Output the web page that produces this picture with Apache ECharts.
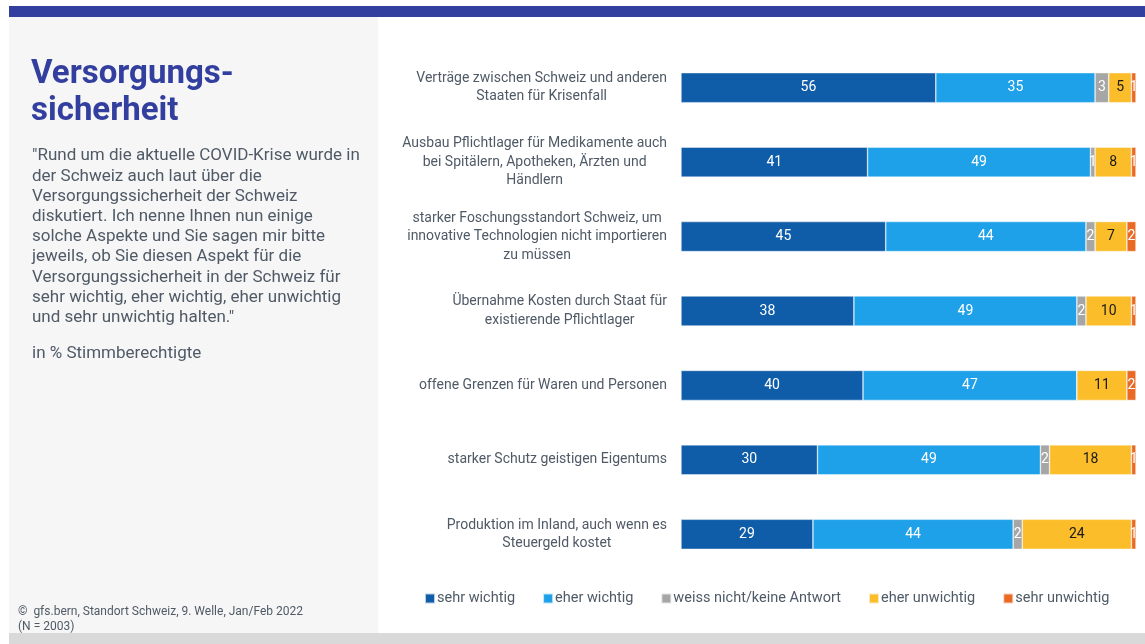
<!DOCTYPE html>
<html>
<head>
<meta charset="utf-8">
<script src="https://cdn.jsdelivr.net/npm/echarts@6/dist/echarts.min.js"></script>
<style>
  html, body { margin: 0; padding: 0; background: #fff; }
  #chart { width: 1145px; height: 644px; }
</style>
</head>
<body>
<div id="chart"></div>
<script>
// Aspekte (von oben nach unten)
var aspekte = [
  'Verträge zwischen Schweiz und anderen\nStaaten für Krisenfall',
  'Ausbau Pflichtlager für Medikamente auch\nbei Spitälern, Apotheken, Ärzten und\nHändlern',
  'starker Foschungsstandort Schweiz, um\ninnovative Technologien nicht importieren\nzu müssen',
  'Übernahme Kosten durch Staat für\nexistierende Pflichtlager',
  'offene Grenzen für Waren und Personen',
  'starker Schutz geistigen Eigentums',
  'Produktion im Inland, auch wenn es\nSteuergeld kostet'
];

var sehrWichtig   = [56, 41, 45, 38, 40, 30, 29];
var eherWichtig   = [35, 49, 44, 49, 47, 49, 44];
var weissNicht    = [3, 1, 2, 2, 0, 2, 2];
var eherUnwichtig = [5, 8, 7, 10, 11, 18, 24];
var sehrUnwichtig = [1, 1, 2, 1, 2, 1, 1];

var reihen = [
  { name: 'sehr wichtig', data: sehrWichtig, color: '#0f5da9', text: '#fff' },
  { name: 'eher wichtig', data: eherWichtig, color: '#1ea1e9', text: '#fff' },
  { name: 'weiss nicht/keine Antwort', data: weissNicht, color: '#a6a6a6', text: '#fff' },
  { name: 'eher unwichtig', data: eherUnwichtig, color: '#fbbd2a', text: '#1a1a1a' },
  { name: 'sehr unwichtig', data: sehrUnwichtig, color: '#e96a25', text: '#fff' }
];

var font = 'Roboto, "Noto Sans", sans-serif';
var textGrey = '#4f5a66';

var chart = echarts.init(document.getElementById('chart'));

var series = reihen.map(function (r) {
  return {
    name: r.name,
    type: 'bar',
    stack: 'total',
    barWidth: 30,
    data: r.data,
    itemStyle: { color: r.color, borderColor: 'rgba(255,255,255,0.7)', borderWidth: 0.6 },
    label: {
      show: true,
      position: 'inside',
      color: r.text,
      fontFamily: font,
      fontSize: 14,
      formatter: function (p) { return p.value > 0 ? p.value : ''; }
    },
    emphasis: { disabled: true }
  };
});

chart.setOption({
  animation: false,
  color: reihen.map(function (r) { return r.color; }),
  graphic: [
    { type: 'rect', shape: { x: 9, y: 6, width: 1136, height: 11 }, style: { fill: '#323f9e' }, silent: true },
    { type: 'rect', shape: { x: 9, y: 17, width: 369, height: 616 }, style: { fill: '#f6f6f6' }, silent: true },
    { type: 'rect', shape: { x: 9, y: 633, width: 1136, height: 11 }, style: { fill: '#d9d9d9' }, silent: true },
    {
      type: 'text', left: 31, top: 56, silent: true,
      style: {
        text: 'Versorgungs-\nsicherheit',
        font: 'bold 33px ' + font,
        fill: '#323f9e',
        lineHeight: 37
      }
    },
    {
      type: 'text', left: 32, top: 146, silent: true,
      style: {
        text: '"Rund um die aktuelle COVID-Krise wurde in\nder Schweiz auch laut über die\nVersorgungssicherheit der Schweiz\ndiskutiert. Ich nenne Ihnen nun einige\nsolche Aspekte und Sie sagen mir bitte\njeweils, ob Sie diesen Aspekt für die\nVersorgungssicherheit in der Schweiz für\nsehr wichtig, eher wichtig, eher unwichtig\nund sehr unwichtig halten."',
        font: '17px ' + font,
        fill: textGrey,
        lineHeight: 20.2
      }
    },
    {
      type: 'text', left: 32, top: 345, silent: true,
      style: { text: 'in % Stimmberechtigte', font: '17px ' + font, fill: textGrey }
    },
    {
      type: 'text', left: 18, top: 605, silent: true,
      style: {
        text: '©  gfs.bern, Standort Schweiz, 9. Welle, Jan/Feb 2022\n(N = 2003)',
        font: '12px ' + font,
        fill: textGrey,
        lineHeight: 14.5
      }
    }
  ],
  legend: {
    left: 419,
    top: 586,
    itemWidth: 10,
    itemHeight: 10,
    itemGap: 27,
    icon: 'rect',
    selectedMode: false,
    textStyle: { color: textGrey, fontFamily: font, fontSize: 14.5, padding: [0, 0, 0, -3] },
    data: reihen.map(function (r) { return r.name; })
  },
  grid: { left: 681, right: 9, top: 50.5, bottom: 72.5, containLabel: false },
  xAxis: {
    type: 'value',
    min: 0,
    max: 100,
    show: false
  },
  yAxis: {
    type: 'category',
    inverse: true,
    data: aspekte,
    axisLine: { show: false },
    axisTick: { show: false },
    axisLabel: {
      margin: 14,
      formatter: function (v) {
        return v.split('\n').map(function (l) { return '{c|' + l + '}'; }).join('\n');
      },
      rich: {
        c: {
          align: 'center',
          color: textGrey,
          fontFamily: font,
          fontSize: 14,
          lineHeight: 18.5
        }
      }
    }
  },
  series: series
});
</script>
</body>
</html>
